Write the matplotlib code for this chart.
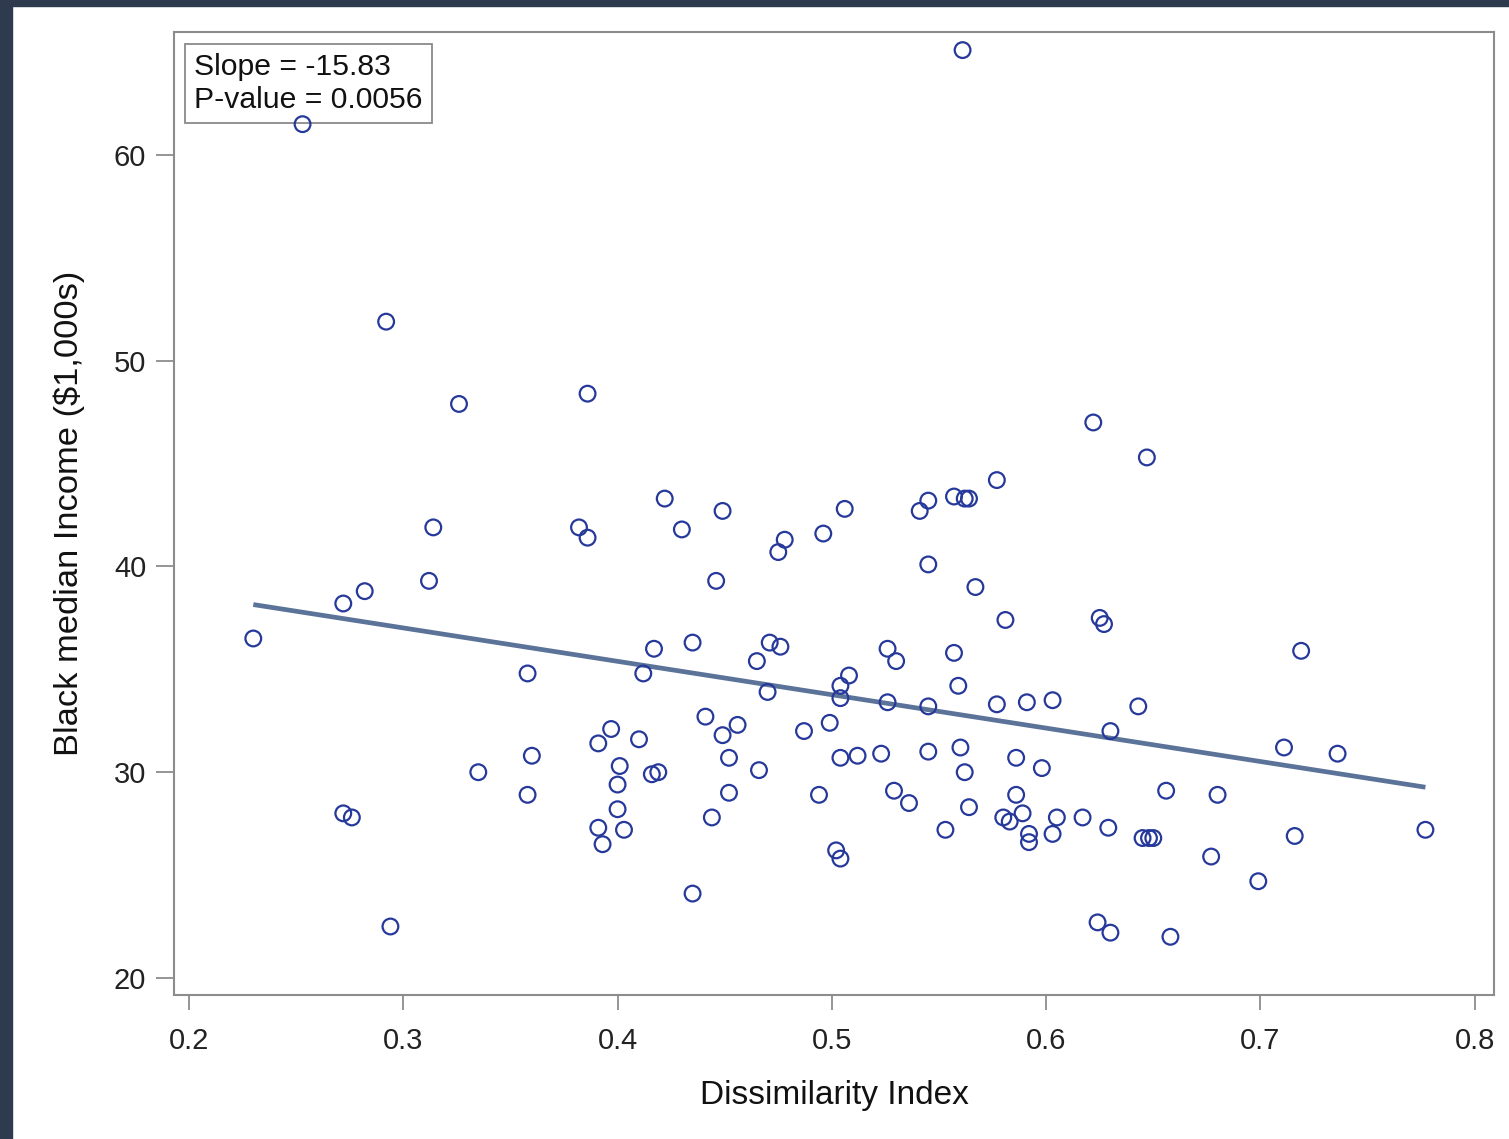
import numpy as np
import matplotlib.pyplot as plt
from matplotlib.patches import Rectangle

plt.rcParams['font.family'] = ['Liberation Sans', 'DejaVu Sans']

# dissimilarity index (x) and black median income in $1,000s (y)
dissim = [0.561, 0.253, 0.292, 0.326, 0.386, 0.622, 0.647, 0.577, 0.422, 0.449,
          0.506, 0.541, 0.545, 0.557, 0.562, 0.564, 0.314, 0.382, 0.386, 0.430,
          0.478, 0.475, 0.496, 0.545, 0.446, 0.312, 0.282, 0.272, 0.567, 0.581,
          0.625, 0.627, 0.230, 0.719, 0.435, 0.417, 0.471, 0.476, 0.526, 0.530,
          0.557, 0.465, 0.412, 0.358, 0.508, 0.504, 0.504, 0.470, 0.559, 0.526,
          0.545, 0.577, 0.591, 0.603, 0.643, 0.630, 0.441, 0.456, 0.499, 0.487,
          0.449, 0.397, 0.391, 0.410, 0.360, 0.452, 0.504, 0.512, 0.523, 0.545,
          0.560, 0.711, 0.736, 0.586, 0.598, 0.401, 0.335, 0.416, 0.419, 0.466,
          0.562, 0.400, 0.358, 0.452, 0.494, 0.529, 0.536, 0.564, 0.586, 0.589,
          0.580, 0.583, 0.656, 0.680, 0.272, 0.276, 0.400, 0.444, 0.391, 0.403,
          0.553, 0.592, 0.592, 0.603, 0.605, 0.617, 0.629, 0.645, 0.648, 0.650,
          0.716, 0.777, 0.393, 0.502, 0.504, 0.677, 0.699, 0.435, 0.294, 0.624,
          0.630, 0.658]
income = [65.1, 61.5, 51.9, 47.9, 48.4, 47.0, 45.3, 44.2, 43.3, 42.7,
          42.8, 42.7, 43.2, 43.4, 43.3, 43.3, 41.9, 41.9, 41.4, 41.8,
          41.3, 40.7, 41.6, 40.1, 39.3, 39.3, 38.8, 38.2, 39.0, 37.4,
          37.5, 37.2, 36.5, 35.9, 36.3, 36.0, 36.3, 36.1, 36.0, 35.4,
          35.8, 35.4, 34.8, 34.8, 34.7, 34.2, 33.6, 33.9, 34.2, 33.4,
          33.2, 33.3, 33.4, 33.5, 33.2, 32.0, 32.7, 32.3, 32.4, 32.0,
          31.8, 32.1, 31.4, 31.6, 30.8, 30.7, 30.7, 30.8, 30.9, 31.0,
          31.2, 31.2, 30.9, 30.7, 30.2, 30.3, 30.0, 29.9, 30.0, 30.1,
          30.0, 29.4, 28.9, 29.0, 28.9, 29.1, 28.5, 28.3, 28.9, 28.0,
          27.8, 27.6, 29.1, 28.9, 28.0, 27.8, 28.2, 27.8, 27.3, 27.2,
          27.2, 27.0, 26.6, 27.0, 27.8, 27.8, 27.3, 26.8, 26.8, 26.8,
          26.9, 27.2, 26.5, 26.2, 25.8, 25.9, 24.7, 24.1, 22.5, 22.7,
          22.2, 22.0]

xticks = [0.2, 0.3, 0.4, 0.5, 0.6, 0.7, 0.8]
yticks = [20, 30, 40, 50, 60]
stats_text = "Slope = -15.83\nP-value = 0.0056"

x = np.array(dissim)
y = np.array(income)
slope, intercept = np.polyfit(x, y, 1)
xs = np.array([x.min(), x.max()])

fig = plt.figure(figsize=(15.09, 11.39), dpi=100)
ax = fig.add_axes([174/1509, 1 - 995/1139, 1320/1509, 963/1139])

# dark frame strips like the screenshot
fig.patches.append(Rectangle((0, 0), 12/1509, 1, transform=fig.transFigure,
                             color='#2e3a4d', zorder=0))
fig.patches.append(Rectangle((0, 1 - 6/1139), 1, 6/1139, transform=fig.transFigure,
                             color='#2e3a4d', zorder=0))

ax.plot(xs, slope * xs + intercept, color='#5b7398', lw=3.4, zorder=3,
        solid_capstyle='butt')
ax.scatter(x, y, s=128, facecolors='none', edgecolors='#26399a',
           linewidths=1.6, zorder=5)

ax.text(0.0152, 0.978, stats_text, transform=ax.transAxes, ha='left', va='top',
        fontsize=21.7, color='#111111', linespacing=1.22, zorder=4,
        bbox=dict(boxstyle='square,pad=0.3', fc='white', ec='#8a8a8a', lw=1.3))

ax.set_xlim(0.193, 0.809)
ax.set_ylim(19.17, 65.98)
ax.set_xticks(xticks)
ax.set_xticklabels([f"{t:.1f}" for t in xticks])
ax.set_yticks(yticks)

for s in ax.spines.values():
    s.set_color('#8c8c8c')
    s.set_linewidth(1.5)
ax.tick_params(axis='both', colors='#8c8c8c', labelcolor='#222222',
               labelsize=21, width=1.3)
ax.tick_params(axis='y', length=13, pad=7)
ax.tick_params(axis='x', length=11, pad=12)

ax.set_xlabel('Dissimilarity Index', fontsize=24, color='#111111', labelpad=18)
ax.set_ylabel('Black median Income ($1,000s)', fontsize=24.8, color='#111111',
              labelpad=21)

fig.savefig('out.png', dpi=100)
